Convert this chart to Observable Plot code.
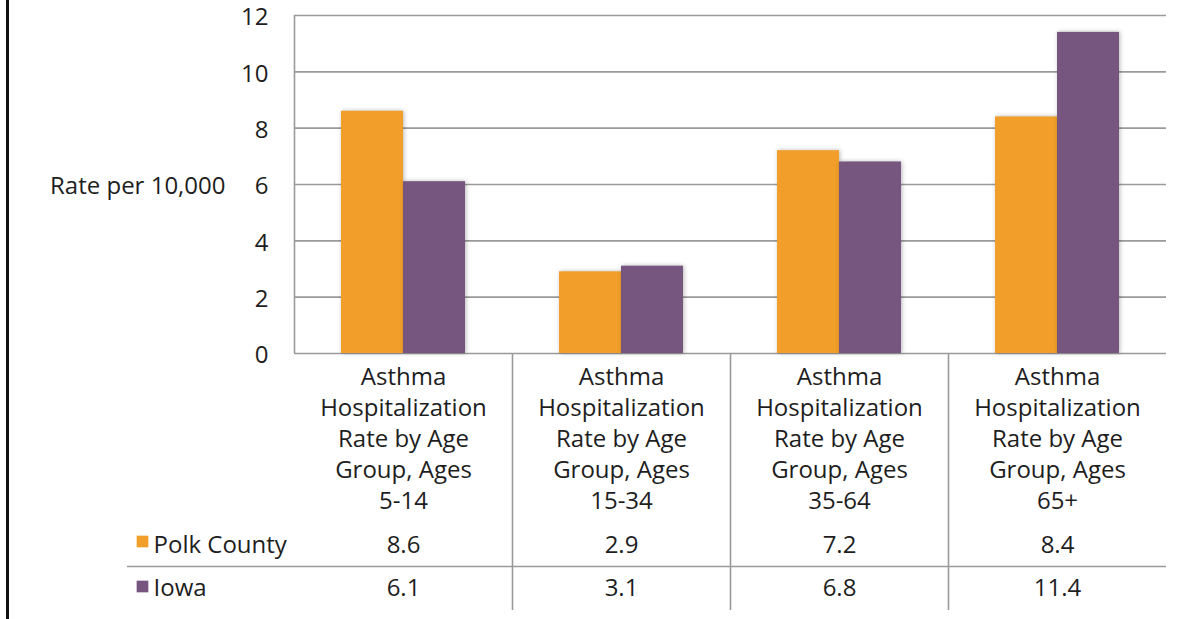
<!DOCTYPE html>
<html>
<head>
<meta charset="utf-8">
<script src="https://cdn.jsdelivr.net/npm/d3@7"></script>
<script src="https://cdn.jsdelivr.net/npm/@observablehq/plot@0.6"></script>
<style>
  html, body { margin: 0; padding: 0; background: #fff; }
  #wrap { position: relative; width: 1195px; height: 619px; overflow: hidden; }
  #border { position: absolute; left: 6px; top: 0; width: 3px; height: 619px; background: #111; }
</style>
</head>
<body>
<div id="wrap"><div id="border"></div></div>
<script>
const categories = ["5-14", "15-34", "35-64", "65+"];
const categoryLabels = [
  "Asthma\nHospitalization\nRate by Age\nGroup, Ages\n5-14",
  "Asthma\nHospitalization\nRate by Age\nGroup, Ages\n15-34",
  "Asthma\nHospitalization\nRate by Age\nGroup, Ages\n35-64",
  "Asthma\nHospitalization\nRate by Age\nGroup, Ages\n65+"
];
const seriesNames = ["Polk County", "Iowa"];
const seriesColors = ["#F19F2A", "#76567E"];
const polkValues = [8.6, 2.9, 7.2, 8.4];
const iowaValues = [6.1, 3.1, 6.8, 11.4];
const yTicks = [0, 2, 4, 6, 8, 10, 12];
const yLabel = "Rate per 10,000";

const polk = categories.map((c, i) => ({category: c, series: seriesNames[0], value: polkValues[i]}));
const iowa = categories.map((c, i) => ({category: c, series: seriesNames[1], value: iowaValues[i]}));

const W = 1195, H = 619;
const mL = 294, mR = 29, mT = 15, mB = 266;
const band = (W - mL - mR) / categories.length; // 218
const barW = 62;
const grid = "#9a9a9a";
const ink = "#1e1e1e";

const chart = Plot.plot({
  width: W,
  height: H,
  marginLeft: mL,
  marginRight: mR,
  marginTop: mT,
  marginBottom: mB,
  style: {fontFamily: "'Open Sans', sans-serif", fontSize: "24px", color: ink, background: "transparent"},
  x: {domain: categories, padding: 0, axis: null},
  y: {domain: [0, 12], axis: null},
  marks: [
    Plot.gridY(yTicks, {stroke: grid, strokeOpacity: 1, strokeWidth: 1.6}),
    Plot.axisY(yTicks, {tickSize: 0, tickPadding: 26, fontSize: 24, label: null, fill: ink, dy: 2}),
    Plot.text([yLabel], {frameAnchor: "left", dx: -69, textAnchor: "end", fill: ink, fontSize: 24, dy: 2}),
    // left axis line
    Plot.ruleX([categories[0]], {x: d => d, dx: -band / 2, stroke: grid, strokeWidth: 1.6}),
    // table column separators
    Plot.ruleX(categories.slice(1), {x: d => d, dx: -band / 2, stroke: grid, strokeWidth: 1.6, insetTop: H - mT - mB, insetBottom: -257}),
    // table row separator
    Plot.ruleY([0], {dy: 213, insetLeft: -167, stroke: grid, strokeWidth: 1.6}),
    // bars
    Plot.barY(polk, {x: "category", y: "value", fill: seriesColors[0], insetLeft: band / 2 - barW, insetRight: band / 2}),
    Plot.barY(iowa, {x: "category", y: "value", fill: seriesColors[1], insetLeft: band / 2, insetRight: band / 2 - barW}),
    // category labels
    Plot.text(categories, {x: d => d, text: (d, i) => categoryLabels[i], frameAnchor: "bottom", lineAnchor: "top", lineHeight: 1.3, dy: 9, fill: ink, fontSize: 24}),
    // data table values
    Plot.text(polk, {x: "category", text: d => d.value.toFixed(1), frameAnchor: "bottom", dy: 199, fill: ink, fontSize: 24}),
    Plot.text(iowa, {x: "category", text: d => d.value.toFixed(1), frameAnchor: "bottom", dy: 242, fill: ink, fontSize: 24}),
    // legend keys
    Plot.dot([seriesNames[0]], {frameAnchor: "bottom-left", dx: -152, dy: 188, symbol: "square", r: 6.6, fill: seriesColors[0], stroke: null}),
    Plot.dot([seriesNames[1]], {frameAnchor: "bottom-left", dx: -152, dy: 233, symbol: "square", r: 6.6, fill: seriesColors[1], stroke: null}),
    Plot.text([seriesNames[0]], {text: d => d, frameAnchor: "bottom-left", dx: -141, dy: 199, textAnchor: "start", fill: ink, fontSize: 24}),
    Plot.text([seriesNames[1]], {text: d => d, frameAnchor: "bottom-left", dx: -141, dy: 242, textAnchor: "start", fill: ink, fontSize: 24})
  ]
});

chart.querySelectorAll('g[aria-label="bar"]').forEach(g => {
  g.style.filter = "drop-shadow(1px 0px 2px rgba(0,0,0,0.28))";
});

document.getElementById("wrap").appendChild(chart);
</script>
</body>
</html>
